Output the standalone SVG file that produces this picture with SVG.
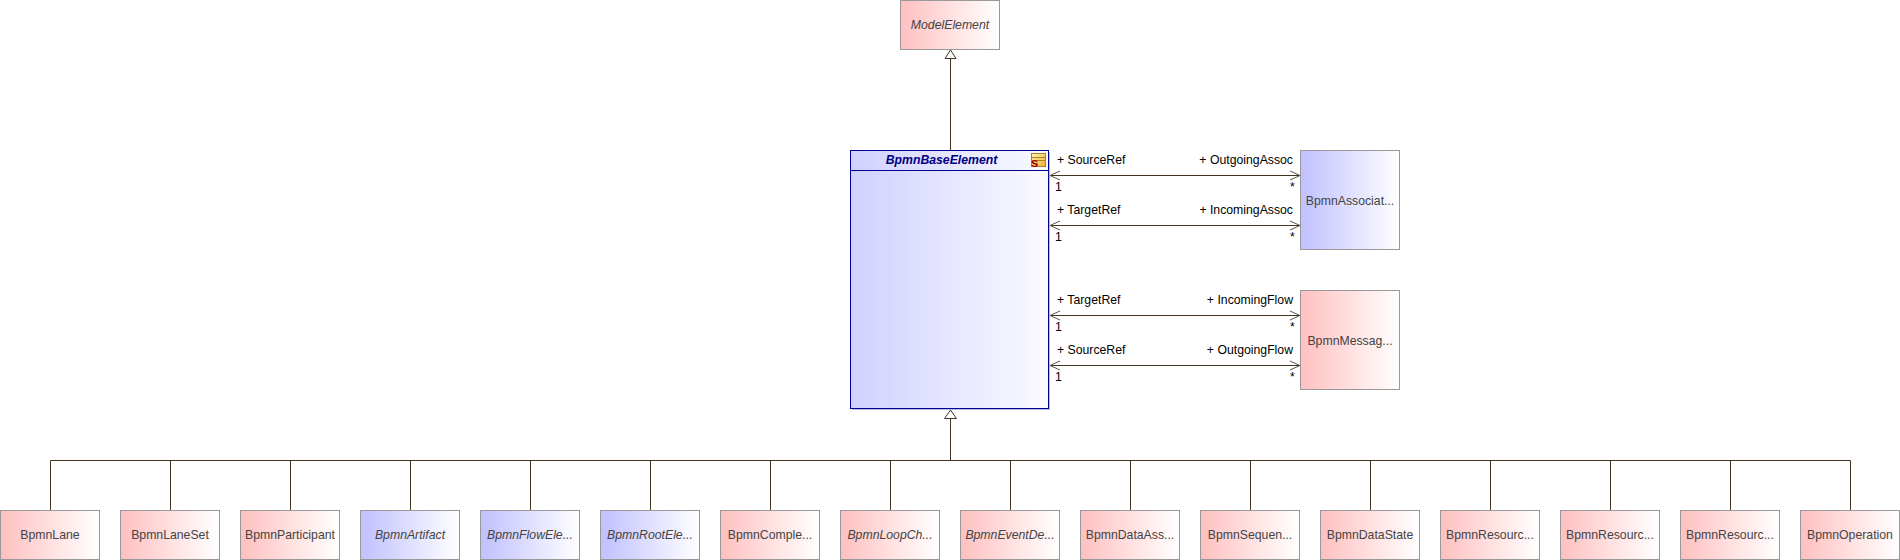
<svg xmlns="http://www.w3.org/2000/svg" width="1900" height="560" viewBox="0 0 1900 560">
<defs>
<linearGradient id="r"><stop offset="0" stop-color="#ffc0c0"/><stop offset="1" stop-color="#fff"/></linearGradient>
<linearGradient id="b"><stop offset="0" stop-color="#c0c0ff"/><stop offset="1" stop-color="#fff"/></linearGradient>
<linearGradient id="m"><stop offset="0" stop-color="#d0d0ff"/><stop offset="1" stop-color="#fbfbff"/></linearGradient>
<linearGradient id="s" x1="0" y1="0" x2="1" y2="1"><stop offset="0" stop-color="#fff4b0"/><stop offset="1" stop-color="#f0b030"/></linearGradient>
<marker id="open" markerUnits="userSpaceOnUse" markerWidth="14" markerHeight="12" refX="11" refY="6" orient="auto-start-reverse"><path d="M1 1.500L11 6L1 10.500" fill="none" stroke="#5f5646"/></marker>
</defs>
<style>
text{font-family:"Liberation Sans",Arial,sans-serif;font-size:12.25px}
.n rect{stroke:#999;stroke-width:1}
.n text{fill:#444;text-anchor:middle}
.i text{font-style:italic}
.c path{fill:none;stroke:#43341f;stroke-width:1}
.c .h{fill:#fff}
.l text{fill:#000}
.e{text-anchor:end}
</style>
<g id="connectors" class="c">
<path d="M950.500 150V58"/><path class="h" d="M950.500 50L945 58.500H956Z"/>
<path d="M950.500 460.500V418"/><path class="h" d="M950.500 410L944.500 418.500H956.500Z"/>
<path d="M50.500 460.500H1850.500"/>
<path d="M50.500 460.500V510M170.500 460.500V510M290.500 460.500V510M410.500 460.500V510M530.500 460.500V510M650.500 460.500V510M770.500 460.500V510M890.500 460.500V510M1010.500 460.500V510M1130.500 460.500V510M1250.500 460.500V510M1370.500 460.500V510M1490.500 460.500V510M1610.500 460.500V510M1730.500 460.500V510M1850.500 460.500V510"/>
<path d="M1050 175.500H1300" marker-start="url(#open)" marker-end="url(#open)"/>
<path d="M1050 225.500H1300" marker-start="url(#open)" marker-end="url(#open)"/>
<path d="M1050 315.500H1300" marker-start="url(#open)" marker-end="url(#open)"/>
<path d="M1050 365.500H1300" marker-start="url(#open)" marker-end="url(#open)"/>
</g>
<g id="ModelElement" class="n i"><rect x="900.500" y="0.500" width="99" height="49" fill="url(#r)"/><text x="950" y="29">ModelElement</text></g>
<g id="BpmnBaseElement">
<rect x="852" y="152" width="198" height="258" fill="#b9b9e8"/>
<rect x="850.500" y="150.500" width="198" height="258" fill="url(#m)" stroke="#000090" stroke-width="1"/>
<path d="M850.500 170.500H1048.500" stroke="#000090" fill="none"/>
<text x="941.500" y="164" text-anchor="middle" fill="#000080" font-weight="bold" font-style="italic">BpmnBaseElement</text>
<rect x="1031.500" y="153.500" width="14" height="13" fill="url(#s)" stroke="#b08020"/>
<path d="M1032 157.500H1045M1032 160.500H1045" stroke="#b08020" fill="none"/>
<text x="1031" y="167" fill="#a00000" font-weight="bold" style="font-size:13px">s</text>
</g>
<g id="BpmnAssociation" class="n"><rect x="1300.500" y="150.500" width="99" height="99" fill="url(#b)"/><text x="1350" y="205">BpmnAssociat...</text></g>
<g id="BpmnMessageFlow" class="n"><rect x="1300.500" y="290.500" width="99" height="99" fill="url(#r)"/><text x="1350" y="345">BpmnMessag...</text></g>
<g id="labels" class="l">
<text x="1057" y="164">+ SourceRef</text><text class="e" x="1293" y="164">+ OutgoingAssoc</text>
<text x="1055" y="191">1</text><text x="1290" y="191">*</text>
<text x="1057" y="214">+ TargetRef</text><text class="e" x="1293" y="214">+ IncomingAssoc</text>
<text x="1055" y="241">1</text><text x="1290" y="241">*</text>
<text x="1057" y="304">+ TargetRef</text><text class="e" x="1293" y="304">+ IncomingFlow</text>
<text x="1055" y="331">1</text><text x="1290" y="331">*</text>
<text x="1057" y="354">+ SourceRef</text><text class="e" x="1293" y="354">+ OutgoingFlow</text>
<text x="1055" y="381">1</text><text x="1290" y="381">*</text>
</g>
<g id="BpmnLane" class="n"><rect x="0.500" y="510.500" width="99" height="49" fill="url(#r)"/><text x="50" y="539">BpmnLane</text></g>
<g id="BpmnLaneSet" class="n"><rect x="120.500" y="510.500" width="99" height="49" fill="url(#r)"/><text x="170" y="539">BpmnLaneSet</text></g>
<g id="BpmnParticipant" class="n"><rect x="240.500" y="510.500" width="99" height="49" fill="url(#r)"/><text x="290" y="539">BpmnParticipant</text></g>
<g id="BpmnArtifact" class="n i"><rect x="360.500" y="510.500" width="99" height="49" fill="url(#b)"/><text x="410" y="539">BpmnArtifact</text></g>
<g id="BpmnFlowElement" class="n i"><rect x="480.500" y="510.500" width="99" height="49" fill="url(#b)"/><text x="530" y="539">BpmnFlowEle...</text></g>
<g id="BpmnRootElement" class="n i"><rect x="600.500" y="510.500" width="99" height="49" fill="url(#b)"/><text x="650" y="539">BpmnRootEle...</text></g>
<g id="BpmnComplex" class="n"><rect x="720.500" y="510.500" width="99" height="49" fill="url(#r)"/><text x="770" y="539">BpmnComple...</text></g>
<g id="BpmnLoop" class="n i"><rect x="840.500" y="510.500" width="99" height="49" fill="url(#r)"/><text x="890" y="539">BpmnLoopCh...</text></g>
<g id="BpmnEventDef" class="n i"><rect x="960.500" y="510.500" width="99" height="49" fill="url(#r)"/><text x="1010" y="539">BpmnEventDe...</text></g>
<g id="BpmnDataAss" class="n"><rect x="1080.500" y="510.500" width="99" height="49" fill="url(#r)"/><text x="1130" y="539">BpmnDataAss...</text></g>
<g id="BpmnSequence" class="n"><rect x="1200.500" y="510.500" width="99" height="49" fill="url(#r)"/><text x="1250" y="539">BpmnSequen...</text></g>
<g id="BpmnDataState" class="n"><rect x="1320.500" y="510.500" width="99" height="49" fill="url(#r)"/><text x="1370" y="539">BpmnDataState</text></g>
<g id="BpmnResource1" class="n"><rect x="1440.500" y="510.500" width="99" height="49" fill="url(#r)"/><text x="1490" y="539">BpmnResourc...</text></g>
<g id="BpmnResource2" class="n"><rect x="1560.500" y="510.500" width="99" height="49" fill="url(#r)"/><text x="1610" y="539">BpmnResourc...</text></g>
<g id="BpmnResource3" class="n"><rect x="1680.500" y="510.500" width="99" height="49" fill="url(#r)"/><text x="1730" y="539">BpmnResourc...</text></g>
<g id="BpmnOperation" class="n"><rect x="1800.500" y="510.500" width="99" height="49" fill="url(#r)"/><text x="1850" y="539">BpmnOperation</text></g>
</svg>
